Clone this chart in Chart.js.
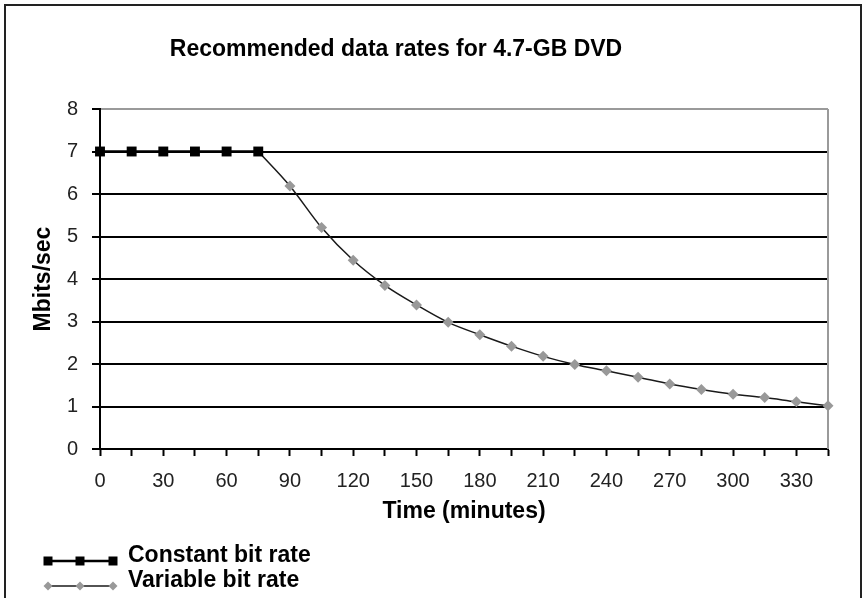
<!DOCTYPE html>
<html>
<head>
<meta charset="utf-8">
<script src="https://cdn.jsdelivr.net/npm/chart.js@4.4.1/dist/chart.umd.min.js"></script>
<style>
  html, body { margin: 0; padding: 0; background: #fff; }
  #wrap { position: relative; width: 865px; height: 598px; }
  canvas { display: block; }
</style>
</head>
<body>
<div id="wrap"><canvas id="c" width="865" height="598"></canvas></div>
<script>
// ---- data ----
const chartTitle = 'Recommended data rates for 4.7-GB DVD';
const xAxisTitle = 'Time (minutes)';
const yAxisTitle = 'Mbits/sec';
const cbrLabel = 'Constant bit rate';
const vbrLabel = 'Variable bit rate';
const cbrMinutes = [0, 15, 30, 45, 60, 75];
const cbrRates = [7, 7, 7, 7, 7, 7];
const vbrMinutes = [75, 90, 105, 120, 135, 150, 165, 180, 195, 210, 225, 240, 255, 270, 285, 300, 315, 330, 345];
const vbrRates = [7, 6.19, 5.21, 4.44, 3.85, 3.39, 2.98, 2.69, 2.42, 2.18, 1.99, 1.84, 1.69, 1.53, 1.40, 1.29, 1.21, 1.11, 1.02];
const xTickStep = 15;
const xLabelStep = 30;
const xMax = 345;
const yMax = 8;

const BOLD = '"Liberation Sans", Arial, sans-serif';
const TICKF = '"Liberation Sans", Arial, sans-serif';

const frameAndLegend = {
  id: 'frameAndLegend',
  afterLayout(chart) {
    const t = chart.titleBlock;
    if (t) { t.left -= 18; t.right -= 18; }
  },
  beforeDraw(chart) {
    const ctx = chart.ctx;
    ctx.save();
    ctx.fillStyle = '#fff';
    ctx.fillRect(0, 0, chart.width, chart.height);
    ctx.strokeStyle = '#222';
    ctx.lineWidth = 2;
    ctx.beginPath();
    ctx.moveTo(5, chart.height + 5);
    ctx.lineTo(5, 5);
    ctx.lineTo(chart.width - 4, 5);
    ctx.lineTo(chart.width - 4, chart.height + 5);
    ctx.stroke();
    ctx.restore();
  },
  beforeDatasetsDraw(chart) {
    const {ctx, chartArea: a} = chart;
    ctx.save();
    ctx.strokeStyle = '#9a9a9a';
    ctx.lineWidth = 2;
    ctx.beginPath();
    ctx.moveTo(a.right, a.top);
    ctx.lineTo(a.right, a.bottom);
    ctx.stroke();
    ctx.restore();
  },
  afterDraw(chart) {
    const ctx = chart.ctx;
    const rows = [561, 586];
    const marks = [48, 80, 113];
    ctx.save();
    chart.data.datasets.forEach((ds, i) => {
      const y = rows[i];
      ctx.strokeStyle = ds.borderColor;
      ctx.lineWidth = ds.borderWidth;
      ctx.beginPath();
      ctx.moveTo(marks[0], y);
      ctx.lineTo(marks[2], y);
      ctx.stroke();
      ctx.fillStyle = ds.pointBackgroundColor;
      const r = ds.legendRadius;
      marks.forEach(x => {
        ctx.beginPath();
        if (ds.pointStyle === 'rect') {
          ctx.rect(x - r, y - r, 2 * r, 2 * r);
        } else {
          ctx.moveTo(x, y - r); ctx.lineTo(x + r, y); ctx.lineTo(x, y + r); ctx.lineTo(x - r, y);
          ctx.closePath();
        }
        ctx.fill();
      });
      ctx.fillStyle = '#000';
      ctx.font = 'bold 23px ' + BOLD;
      ctx.textBaseline = 'alphabetic';
      ctx.fillText(ds.label, 128, y + 1);
    });
    ctx.restore();
  }
};

new Chart(document.getElementById('c'), {
  type: 'line',
  data: {
    datasets: [
      {
        label: cbrLabel,
        data: cbrMinutes.map((m, i) => ({x: m, y: cbrRates[i]})),
        borderColor: '#000',
        borderWidth: 2.5,
        pointStyle: 'rect',
        pointRadius: 7,
        pointBackgroundColor: '#000',
        pointBorderWidth: 0,
        legendRadius: 4.5,
        tension: 0,
        clip: false
      },
      {
        label: vbrLabel,
        data: vbrMinutes.map((m, i) => ({x: m, y: vbrRates[i]})),
        borderColor: '#1a1a1a',
        borderWidth: 1.5,
        pointStyle: 'rectRot',
        pointRadius: (c) => c.dataIndex === 0 ? 0 : 5.5,
        pointBackgroundColor: '#999',
        pointBorderWidth: 0,
        legendRadius: 4.5,
        cubicInterpolationMode: 'monotone',
        clip: false
      }
    ]
  },
  plugins: [frameAndLegend],
  options: {
    responsive: false,
    animation: false,
    events: [],
    layout: { padding: { left: 0, right: 37, top: 0, bottom: 71 } },
    plugins: {
      legend: { display: false },
      tooltip: { enabled: false },
      title: {
        display: true,
        text: chartTitle,
        color: '#000',
        font: { family: BOLD, size: 23, weight: 'bold' },
        padding: { top: 36, bottom: 45.4 }
      }
    },
    scales: {
      x: {
        type: 'linear',
        min: 0,
        max: xMax,
        afterFit: (s) => { s.height = 78; },
        ticks: {
          stepSize: xTickStep,
          autoSkip: false,
          maxRotation: 0,
          padding: 13,
          color: '#222',
          font: { family: TICKF, size: 20 },
          callback: (v) => (v % xLabelStep === 0 && v < xMax) ? String(v) : ''
        },
        grid: { drawOnChartArea: false, drawTicks: true, tickLength: 7, tickColor: '#000', tickWidth: 2 },
        border: { display: true, color: '#000', width: 2 },
        title: {
          display: true,
          text: xAxisTitle,
          color: '#000',
          font: { family: BOLD, size: 23, weight: 'bold' },
          padding: { top: 0, bottom: 2 }
        }
      },
      y: {
        min: 0,
        max: yMax,
        afterFit: (s) => { s.width = 100; },
        ticks: {
          stepSize: 1,
          padding: 14,
          color: '#222',
          font: { family: TICKF, size: 20 }
        },
        grid: {
          color: (c) => c.tick && c.tick.value === yMax ? '#9a9a9a' : '#000',
          lineWidth: 2,
          tickLength: 8,
          tickColor: '#000',
          tickWidth: 2
        },
        border: { display: true, color: '#000', width: 2 },
        title: {
          display: true,
          text: yAxisTitle,
          color: '#000',
          font: { family: BOLD, size: 23, weight: 'bold' },
          padding: { top: 30, bottom: 0 }
        }
      }
    }
  }
});
</script>
</body>
</html>
